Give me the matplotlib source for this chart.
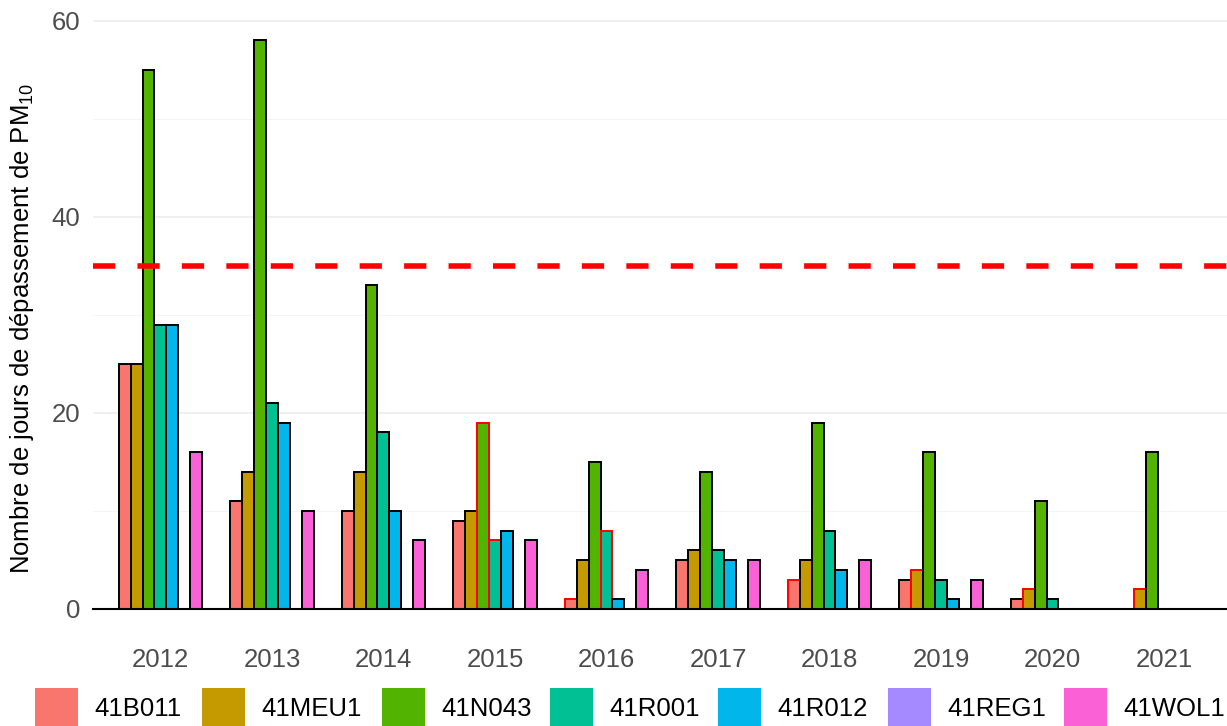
import matplotlib
matplotlib.use("Agg")
import matplotlib.pyplot as plt
from matplotlib.patches import Rectangle
import numpy as np

plt.rcParams['font.family'] = ['Liberation Sans', 'DejaVu Sans']
plt.rcParams['mathtext.fontset'] = 'custom'
plt.rcParams['mathtext.rm'] = 'Liberation Sans'

# Données : nombre de jours de dépassement PM10 par station et par année
annees = ['2012', '2013', '2014', '2015', '2016', '2017', '2018', '2019', '2020', '2021']
stations = ['41B011', '41MEU1', '41N043', '41R001', '41R012', '41REG1', '41WOL1']
couleurs = ['#F8766D', '#C49A00', '#53B400', '#00C094', '#00B6EB', '#A58AFF', '#FB61D7']
nan = np.nan

b011 = [25, 11, 10, 9, 1, 5, 3, 3, 1, 0]
meu1 = [25, 14, 14, 10, 5, 6, 5, 4, 2, 2]
n043 = [55, 58, 33, 19, 15, 14, 19, 16, 11, 16]
r001 = [29, 21, 18, 7, 8, 6, 8, 3, 1, nan]
r012 = [29, 19, 10, 8, 1, 5, 4, 1, 0, nan]
reg1 = [nan, nan, nan, nan, nan, nan, nan, nan, nan, nan]
wol1 = [16, 10, 7, 7, 4, 5, 5, 3, 0, 0]

# années avec données incomplètes (contour rouge)
b011_inc = [0, 0, 0, 0, 1, 0, 1, 0, 0, 0]
meu1_inc = [0, 0, 0, 0, 0, 0, 0, 1, 1, 1]
n043_inc = [0, 0, 0, 1, 0, 0, 0, 0, 0, 0]
r001_inc = [0, 0, 0, 1, 1, 0, 0, 0, 0, 0]
r012_inc = [0, 0, 0, 0, 0, 0, 0, 0, 0, 0]
reg1_inc = [0, 0, 0, 0, 0, 0, 0, 0, 0, 0]
wol1_inc = [0, 0, 0, 0, 0, 0, 0, 0, 1, 1]

valeur_limite = 35

valeurs = [b011, meu1, n043, r001, r012, reg1, wol1]
incomplets = [b011_inc, meu1_inc, n043_inc, r001_inc, r012_inc, reg1_inc, wol1_inc]

W, H = 1227, 726
fig = plt.figure(figsize=(W / 100, H / 100), dpi=100)
ax = fig.add_axes([93 / W, (H - 609) / H, (W - 93) / W, 609 / H])

x = np.arange(1, len(annees) + 1)
largeur = 0.75 / len(stations)

for i, (nom, vals, inc, coul) in enumerate(zip(stations, valeurs, incomplets, couleurs)):
    pos = x + (i - 3) * largeur
    bords = ['red' if f else 'black' for f in inc]
    ax.bar(pos, vals, largeur, color=coul, edgecolor=bords, linewidth=1.4, zorder=2)

ax.axhline(valeur_limite, color='red', linestyle=(0, (4, 4)), linewidth=4, zorder=3)

ax.set_xlim(0.395, 10.565)
ax.set_ylim(0, 62.1)
ax.set_xticks(x)
ax.set_xticklabels(annees)
ax.set_yticks([0, 20, 40, 60])
ax.set_yticks([10, 30, 50], minor=True)
ax.grid(axis='y', which='major', color='#EBEBEB', linewidth=1.1, zorder=0)
ax.grid(axis='y', which='minor', color='#F2F2F2', linewidth=0.6, zorder=0)
ax.set_axisbelow(True)
ax.tick_params(axis='x', length=0, pad=28, labelsize=18.5, labelcolor='#4D4D4D')
ax.tick_params(axis='y', which='both', length=0, pad=9, labelsize=18.5, labelcolor='#4D4D4D')
for s in ['top', 'right', 'left']:
    ax.spines[s].set_visible(False)
ax.spines['bottom'].set_color('black')
ax.spines['bottom'].set_linewidth(1.5)
ax.spines['bottom'].set_zorder(4)

fig.text(22 / W, 1 - 328 / H, r'Nombre de jours de dépassement de PM$_{\mathregular{10}}$',
         rotation=90, ha='center', va='center', fontsize=18.5, color='black')

# légende en bas
cles_x = [35, 202, 382, 550, 718, 888, 1064]
for kx, nom, coul in zip(cles_x, stations, couleurs):
    fig.patches.append(Rectangle((kx / W, 0), 43 / W, 38 / H, transform=fig.transFigure,
                                 facecolor=coul, edgecolor='none'))
    fig.text((kx + 59) / W, 1 - 709 / H, nom, ha='left', va='center', fontsize=18.5, color='black')

fig.savefig('out.png', dpi=100)
